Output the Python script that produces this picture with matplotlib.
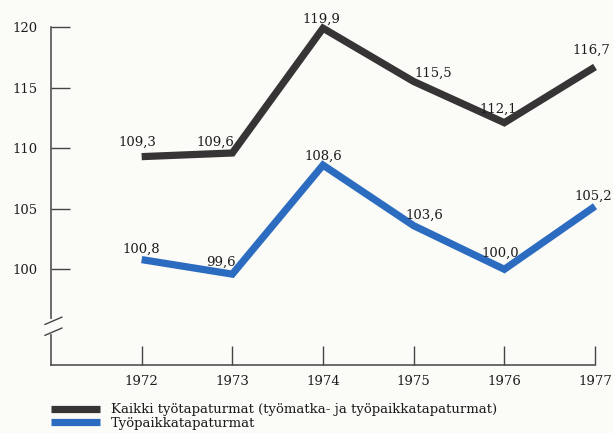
import matplotlib
matplotlib.use("Agg")
import matplotlib.pyplot as plt

years = [1972, 1973, 1974, 1975, 1976, 1977]
kaikki = [109.3, 109.6, 119.9, 115.5, 112.1, 116.7]
tyopaikka = [100.8, 99.6, 108.6, 103.6, 100.0, 105.2]
yticks = [100, 105, 110, 115, 120]
label_kaikki = "Kaikki työtapaturmat (työmatka- ja työpaikkatapaturmat)"
label_tyopaikka = "Työpaikkatapaturmat"

# label offsets in pixels (dx, dy) relative to each point
off_kaikki = [(-4, 14), (-17, 11), (-2, 9), (20, 8), (-6, 13), (-4, 17)]
off_tyopaikka = [(0, 10), (-11, 12), (0, 9), (11, 10), (-4, 16), (-2, 10)]

dark = "#363434"
blue = "#2c6cc0"
bg = "#fbfbf8"
txt = "#1c1c1c"

plt.rcParams['font.family'] = ['DejaVu Serif']
fig = plt.figure(figsize=(6.13, 4.33), dpi=100, facecolor=bg)
ax = fig.add_axes([51/613, 1-365/433, (595-51)/613, (365-27)/433])
ax.set_facecolor(bg)

l1, = ax.plot(years, kaikki, color=dark, lw=5.2, solid_joinstyle='miter', solid_capstyle='butt', clip_on=False)
l2, = ax.plot(years, tyopaikka, color=blue, lw=5.2, solid_joinstyle='miter', solid_capstyle='butt', clip_on=False)

def fmt(v):
    return f"{v:.1f}".replace(".", ",")

for series, offs in ((kaikki, off_kaikki), (tyopaikka, off_tyopaikka)):
    for x, v, (dx, dy) in zip(years, series, offs):
        ax.annotate(fmt(v), (x, v), xytext=(dx, dy), textcoords='offset pixels',
                    ha='center', va='center', fontsize=9.5, color=txt,
                    annotation_clip=False, zorder=7)

ax.set_xlim(1971, 1977)
ax.set_ylim(92.1, 120)
ax.set_xticks(years)
ax.set_xticklabels([str(y) for y in years])
ax.set_yticks(yticks)
ax.tick_params(axis='both', direction='in', length=14, width=1, color='#444444',
               labelsize=9.5, labelcolor=txt)
ax.tick_params(axis='y', pad=10)
ax.tick_params(axis='x', pad=7)
for s in ['top', 'right']:
    ax.spines[s].set_visible(False)
for s in ['left', 'bottom']:
    ax.spines[s].set_color('#444444')
    ax.spines[s].set_linewidth(1.1)

# axis break marks
trans = ax.get_yaxis_transform()
ybreak = 95.3
ax.plot([0, 0], [ybreak - 0.45, ybreak + 0.45], transform=trans, color=bg, lw=3, clip_on=False, zorder=5)
for dy in (-0.45, 0.45):
    ax.plot([-0.011, 0.02], [ybreak + dy - 0.3, ybreak + dy + 0.3], transform=trans,
            color='#444444', lw=1, clip_on=False, zorder=6)

fig.legend([l1, l2], [label_kaikki, label_tyopaikka], loc='upper left',
           bbox_to_anchor=(46/613, 1-398/433), frameon=False, fontsize=9.5,
           handlelength=3.7, handletextpad=0.8, labelspacing=0.05, borderaxespad=0,
           labelcolor=txt)

fig.savefig("out.png", dpi=100, facecolor=bg)
